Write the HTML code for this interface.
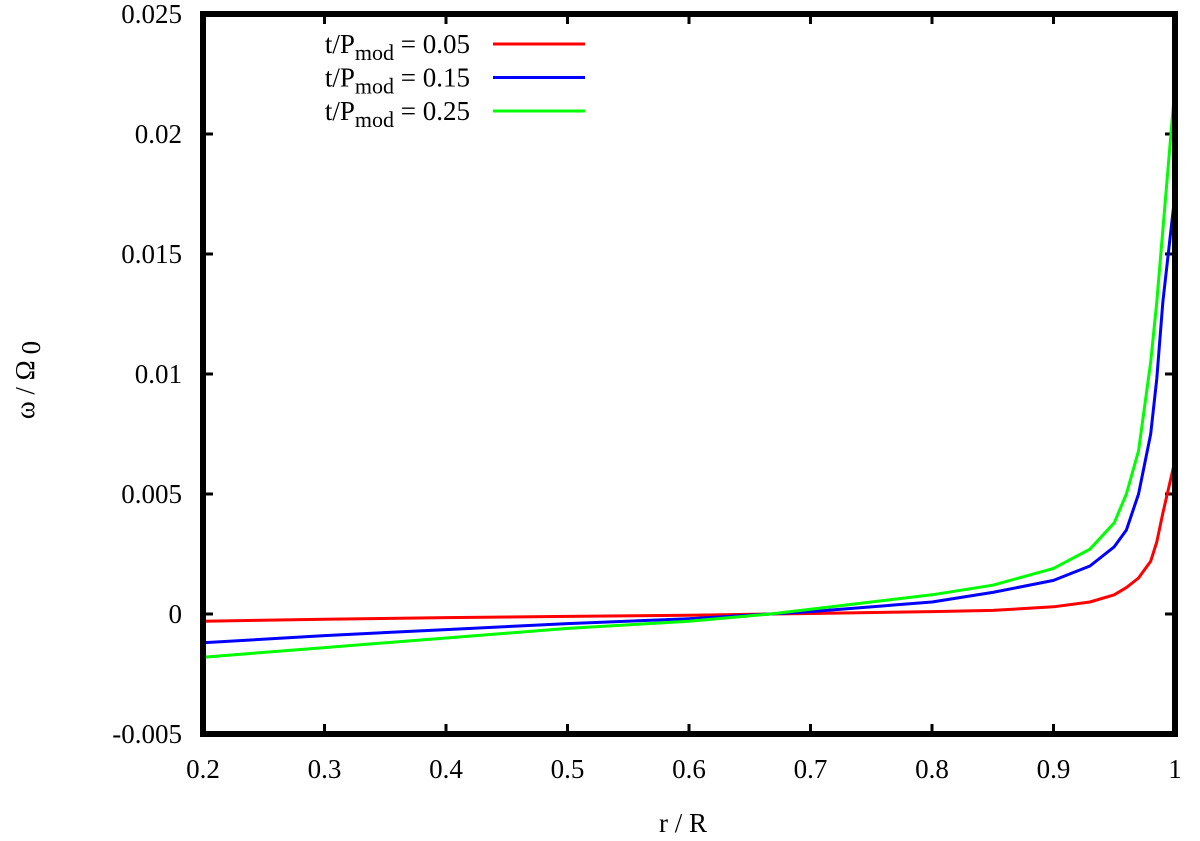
<!DOCTYPE html>
<html><head><meta charset="utf-8"><style>
body{margin:0;background:#fff}
svg text{font-family:"Liberation Serif",serif;font-size:27px;fill:#000}
</style></head><body>
<svg width="1200" height="836">
<g id="grid"></g>
<g id="series"></g>
<rect x="203" y="14" width="972" height="720" fill="none" stroke="#000" stroke-width="6"/>
<text x="683" y="832" text-anchor="middle">r / R</text>
<text transform="translate(34,380) rotate(-90)" text-anchor="middle">ω / Ω<tspan dx="6" dy="6">0</tspan></text>
<g id="legend"></g>
</svg>
<script>
const xTicks=[0.2,0.3,0.4,0.5,0.6,0.7,0.8,0.9,1];
const xTickLabels=["0.2","0.3","0.4","0.5","0.6","0.7","0.8","0.9","1"];
const yTicks=[-0.005,0,0.005,0.01,0.015,0.02,0.025];
const yTickLabels=["-0.005","0","0.005","0.01","0.015","0.02","0.025"];
const rVals=[0.2,0.3,0.4,0.5,0.6,0.667,0.7,0.8,0.85,0.9,0.93,0.95,0.96,0.97,0.98,0.985,0.99,1.0];
const red=[-0.0003,-0.00022,-0.00015,-0.0001,-0.00005,0,0.00002,0.0001,0.00015,0.0003,0.0005,0.0008,0.0011,0.0015,0.0022,0.003,0.0042,0.0064];
const blue=[-0.0012,-0.0009,-0.00065,-0.0004,-0.0002,0,0.0001,0.0005,0.0009,0.0014,0.002,0.0028,0.0035,0.005,0.0075,0.0098,0.013,0.0175];
const green=[-0.0018,-0.0014,-0.001,-0.0006,-0.0003,0,0.0002,0.0008,0.0012,0.0019,0.0027,0.0038,0.005,0.0068,0.0105,0.013,0.016,0.022];
const seriesNames=["t/P = 0.05","t/P = 0.15","t/P = 0.25"];
const seriesLabels=["0.05","0.15","0.25"];
const NS="http://www.w3.org/2000/svg";
const X=v=>203+(v-0.2)/0.8*972;
const Y=v=>734-(v+0.005)/0.03*720;
function mk(t,a,p){const e=document.createElementNS(NS,t);for(const k in a)e.setAttribute(k,a[k]);p.appendChild(e);return e;}
const g=document.getElementById('grid');
xTicks.forEach((v,i)=>{
 const l=mk('path',{d:`M${X(v)},734v-10M${X(v)},14v10`,stroke:'#000','stroke-width':3},g);
 
 
 const t=mk('text',{x:X(v),y:778,'text-anchor':'middle'},g);t.textContent=xTickLabels[i];
 
 
});
yTicks.forEach((v,i)=>{
 const l=mk('path',{d:`M203,${Y(v)}h10M1175,${Y(v)}h-10`,stroke:'#000','stroke-width':3},g);
 
 
 const t=mk('text',{x:182,y:Y(v)+9,'text-anchor':'end'},g);t.textContent=yTickLabels[i];
 
 
});
const s=document.getElementById('series');
const lg=document.getElementById('legend');
[[red,'#f00'],[blue,'#00f'],[green,'#0f0']].forEach(([d,c],i)=>{
 const p=mk('polyline',{points:rVals.map((r,j)=>X(r)+','+Y(d[j])).join(' '),fill:'none',stroke:c,'stroke-width':3,'stroke-linejoin':'round'},s);
 
 
 const ly=44+i*33.5;
 const t=mk('text',{x:470,y:ly+9,'text-anchor':'end'},lg);
 t.innerHTML=`t/P<tspan dy="7" font-size="22">mod</tspan><tspan dy="-7"> = ${seriesLabels[i]}</tspan>`;
 
 
 const l=mk('line',{x1:493,x2:585,y1:ly,y2:ly,stroke:c,'stroke-width':3},lg);
 
 
});
</script>
</body></html>
